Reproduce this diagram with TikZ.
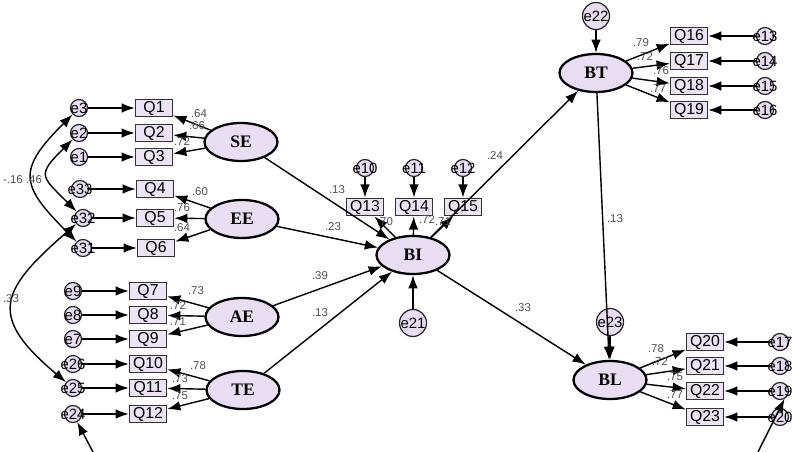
\documentclass[tikz,border=0pt]{standalone}
\usepackage{xcolor}
\usepackage{fontspec}
\setmainfont{Liberation Serif}
\setsansfont{Liberation Sans}
\usepackage{tikz}
\usetikzlibrary{arrows,arrows.meta,shapes,positioning}
\definecolor{latfill}{RGB}{232,221,242}
\definecolor{boxfill}{RGB}{236,228,245}
\definecolor{estgray}{RGB}{80,80,80}
\newcommand{\errtext}[1]{\makebox[0pt]{#1}}
\tikzstyle{latent} = [ellipse, draw, line width=1.3pt, fill=latfill,
    minimum width=1.46cm, minimum height=0.76cm, inner sep=0pt,
    font=\rmfamily\bfseries\fontsize{10}{11}\selectfont]
\tikzstyle{item} = [rectangle, draw=black!80, line width=0.8pt, fill=boxfill,
    minimum width=0.74cm, minimum height=0.34cm, inner sep=1pt,
    font=\sffamily\fontsize{9}{10}\selectfont]
\tikzstyle{err} = [circle, draw=black!85, line width=0.7pt, fill=latfill,
    minimum size=0.34cm, inner sep=0pt, font=\sffamily\fontsize{8.5}{9}\selectfont]
\tikzstyle{dist} = [err, minimum size=0.54cm]
\tikzstyle{line} = [draw, line width=0.8pt, -{Latex[length=7.5pt,width=5.5pt]}]
\tikzstyle{cov} = [draw, line width=0.8pt,
    {Latex[length=7.5pt,width=5.5pt]}-{Latex[length=7.5pt,width=5.5pt]}]
\tikzstyle{est} = [inner sep=0pt, text=estgray, font=\sffamily\fontsize{6.5}{7}\selectfont]

\begin{document}
\begin{tikzpicture}[x=0.02cm, y=-0.02cm, node distance=1.5cm]
    \useasboundingbox (0,0) rectangle (794,452);
    % Place latent nodes
    \node [latent] (se) at (241,142) {SE};
    \node [latent] (ee) at (242,219) {EE};
    \node [latent] (ae) at (242,317) {AE};
    \node [latent] (te) at (243,390) {TE};
    \node [latent] (bi) at (413,255) {BI};
    \node [latent] (bt) at (596,73) {BT};
    \node [latent] (bl) at (610,380) {BL};

    % Place items
    \node [item] (q1) at (154,108) {Q1};
    \node [item] (q2) at (154,133) {Q2};
    \node [item] (q3) at (154,157) {Q3};
    \node [item] (q4) at (155,189) {Q4};
    \node [item] (q5) at (155,218) {Q5};
    \node [item] (q6) at (156,248) {Q6};
    \node [item] (q7) at (148,291) {Q7};
    \node [item] (q8) at (148,315) {Q8};
    \node [item] (q9) at (148,339) {Q9};
    \node [item] (q10) at (148,364) {Q10};
    \node [item] (q11) at (148,388) {Q11};
    \node [item] (q12) at (148,414) {Q12};
    \node [item] (q13) at (365,207) {Q13};
    \node [item] (q14) at (414,207) {Q14};
    \node [item] (q15) at (463,207) {Q15};
    \node [item] (q16) at (689,36) {Q16};
    \node [item] (q17) at (689,61) {Q17};
    \node [item] (q18) at (689,86) {Q18};
    \node [item] (q19) at (689,110) {Q19};
    \node [item] (q20) at (705,342) {Q20};
    \node [item] (q21) at (705,366) {Q21};
    \node [item] (q22) at (705,391) {Q22};
    \node [item] (q23) at (705,417) {Q23};

    % Place error terms
    \node [err, left of=q1] (e3) {\errtext{e3}};
    \node [err, left of=q2] (e2) {\errtext{e2}};
    \node [err, left of=q3] (e1) {\errtext{e1}};
    \node [err, left of=q4] (e33) {\errtext{e33}};
    \node [err, left of=q5, node distance=1.44cm] (e32) {\errtext{e32}};
    \node [err, left of=q6, node distance=1.46cm] (e31) {\errtext{e31}};
    \node [err, left of=q7] (e9) {\errtext{e9}};
    \node [err, left of=q8] (e8) {\errtext{e8}};
    \node [err, left of=q9] (e7) {\errtext{e7}};
    \node [err, left of=q10] (e26) {\errtext{e26}};
    \node [err, left of=q11] (e25) {\errtext{e25}};
    \node [err, left of=q12] (e24) {\errtext{e24}};
    \node [err, above of=q13, node distance=0.78cm] (e10) {\errtext{e10}};
    \node [err, above of=q14, node distance=0.78cm] (e11) {\errtext{e11}};
    \node [err, above of=q15, node distance=0.78cm] (e12) {\errtext{e12}};
    \node [err, right of=q16, node distance=1.52cm] (e13) {\errtext{e13}};
    \node [err, right of=q17, node distance=1.52cm] (e14) {\errtext{e14}};
    \node [err, right of=q18, node distance=1.52cm] (e15) {\errtext{e15}};
    \node [err, right of=q19, node distance=1.52cm] (e16) {\errtext{e16}};
    \node [err, right of=q20] (e17) {\errtext{e17}};
    \node [err, right of=q21] (e18) {\errtext{e18}};
    \node [err, right of=q22] (e19) {\errtext{e19}};
    \node [err, right of=q23] (e20) {\errtext{e20}};
    \node [dist, below of=bi, node distance=1.36cm] (e21) {e21};
    \node [dist, above of=bt, node distance=1.14cm] (e22) {e22};
    \node [dist, above of=bl, node distance=1.16cm] (e23) {e23};
    \coordinate (c24) at (93,452);
    \coordinate (c19) at (758,452);

    % Draw edges
    \path [line] (se) -- (q1);
    \path [line] (se) -- (q2);
    \path [line] (se) -- (q3);
    \path [line] (ee) -- (q4);
    \path [line] (ee) -- (q5);
    \path [line] (ee) -- (q6);
    \path [line] (ae) -- (q7);
    \path [line] (ae) -- (q8);
    \path [line] (ae) -- (q9);
    \path [line] (te) -- (q10);
    \path [line] (te) -- (q11);
    \path [line] (te) -- (q12);
    \path [line] (e3) -- (q1);
    \path [line] (e2) -- (q2);
    \path [line] (e1) -- (q3);
    \path [line] (e33) -- (q4);
    \path [line] (e32) -- (q5);
    \path [line] (e31) -- (q6);
    \path [line] (e9) -- (q7);
    \path [line] (e8) -- (q8);
    \path [line] (e7) -- (q9);
    \path [line] (e26) -- (q10);
    \path [line] (e25) -- (q11);
    \path [line] (e24) -- (q12);
    \path [line] (se) -- (bi);
    \path [line] (ee) -- (bi);
    \path [line] (ae) -- (bi);
    \path [line] (te) -- (bi);
    \path [line] (bi) -- (q13);
    \path [line] (bi) -- (q14);
    \path [line] (bi) -- (q15);
    \path [line] (e10) -- (q13);
    \path [line] (e11) -- (q14);
    \path [line] (e12) -- (q15);
    \path [line] (e21) -- (bi);
    \path [line] (bi) -- (bt);
    \path [line] (bi) -- (bl);
    \path [line] (bt) -- (bl);
    \path [line] (e22) -- (bt);
    \path [line] (e23) -- (bl);
    \path [line] (bt) -- (q16);
    \path [line] (bt) -- (q17);
    \path [line] (bt) -- (q18);
    \path [line] (bt) -- (q19);
    \path [line] (e13) -- (q16);
    \path [line] (e14) -- (q17);
    \path [line] (e15) -- (q18);
    \path [line] (e16) -- (q19);
    \path [line] (bl) -- (q20);
    \path [line] (bl) -- (q21);
    \path [line] (bl) -- (q22);
    \path [line] (bl) -- (q23);
    \path [line] (e17) -- (q20);
    \path [line] (e18) -- (q21);
    \path [line] (e19) -- (q22);
    \path [line] (e20) -- (q23);
    \path [line] (c24) -- (e24);
    \path [line] (c19) -- (e19.300);

    % Draw covariances
    \path [cov] (e3) to[out=225, in=135, looseness=1.6] (e31);
    \path [cov] (e2) to[out=225, in=135, looseness=1.8] (e32);
    \path [cov] (e32) to[out=221, in=140, looseness=1.65] (e25);

    % Place estimates
    \node [est] (v1) at (199,114) {.64};
    \node [est] (v2) at (197,126) {.66};
    \node [est] (v3) at (182,142) {.72};
    \node [est] (v4) at (200,192) {.60};
    \node [est] (v5) at (182,208) {.76};
    \node [est] (v6) at (182,228) {.64};
    \node [est] (v7) at (196,291) {.73};
    \node [est] (v8) at (178,306) {.72};
    \node [est] (v9) at (178,322) {.71};
    \node [est] (v10) at (198,366) {.78};
    \node [est] (v11) at (180,379) {.73};
    \node [est] (v12) at (180,396) {.75};
    \node [est] (v13) at (13,180) {-.16};
    \node [est] (v14) at (34,180) {.46};
    \node [est] (v15) at (11,299) {.33};
    \node [est] (v16) at (337,190) {.13};
    \node [est] (v17) at (333,227) {.23};
    \node [est] (v18) at (320,276) {.39};
    \node [est] (v19) at (320,313) {.13};
    \node [est] (v20) at (385,222) {.70};
    \node [est] (v21) at (427,220) {.72};
    \node [est] (v22) at (443,222) {.71};
    \node [est] (v23) at (495,156) {.24};
    \node [est] (v24) at (523,308) {.33};
    \node [est] (v25) at (615,219) {.13};
    \node [est] (v26) at (641,43) {.79};
    \node [est] (v27) at (645,57) {.72};
    \node [est] (v28) at (661,71) {.76};
    \node [est] (v29) at (658,89) {.77};
    \node [est] (v30) at (656,349) {.78};
    \node [est] (v31) at (660,362) {.72};
    \node [est] (v32) at (675,377) {.75};
    \node [est] (v33) at (675,395) {.77};
\end{tikzpicture}
\end{document}
